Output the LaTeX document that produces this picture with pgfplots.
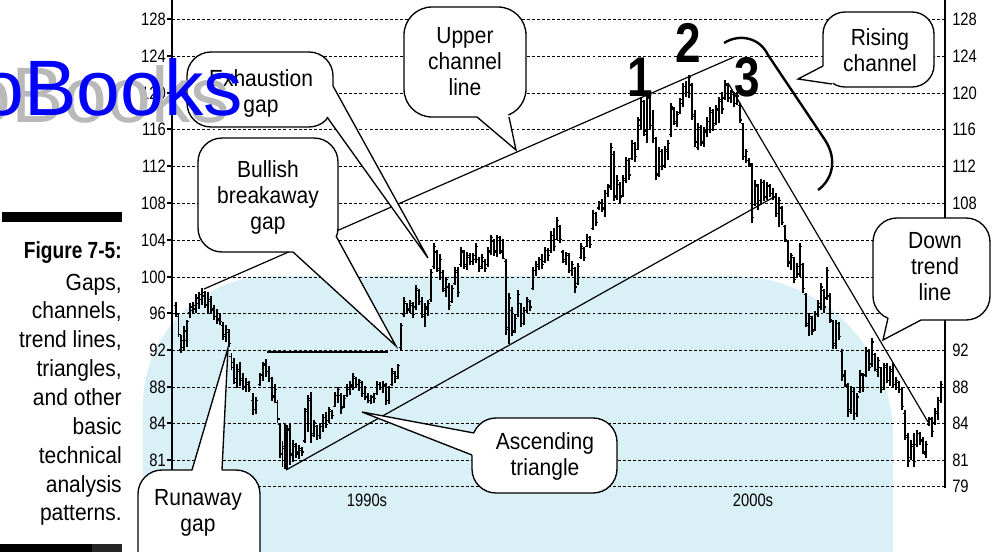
\documentclass[border=0pt]{standalone}
\usepackage{pgfplots}
\pgfplotsset{compat=1.18}
\usepackage{pgfplotstable}
\usepackage{fontspec}
\setmainfont[FakeStretch=0.82]{Liberation Sans}
\newfontfamily\cf[FakeStretch=0.9]{Liberation Sans}
\newfontfamily\wm{Liberation Sans}
\definecolor{bgblue}{RGB}{217,240,246}
\definecolor{wmblue}{RGB}{0,0,255}
\definecolor{wmgrey}{RGB}{185,185,185}
\pgfdeclareplotmark{otick}{\pgfpathmoveto{\pgfqpoint{-1.8pt}{0pt}}\pgfpathlineto{\pgfqpoint{0pt}{0pt}}\pgfusepathqstroke}
\pgfdeclareplotmark{ctick}{\pgfpathmoveto{\pgfqpoint{0pt}{0pt}}\pgfpathlineto{\pgfqpoint{1.8pt}{0pt}}\pgfusepathqstroke}
\pgfplotstableread{
x lo hi o c
176 95.5 97.2 96.8 95.8
178.5 93.3 96.0 95.6 93.6
181 91.6 93.6 92.0 93.0
184 91.8 94.5 92.2 94.0
187 92.3 95.2 93.0 95.0
190 95.4 97.0 96.0 96.6
193 95.8 97.2 96.2 96.8
196 96.0 98.0 96.4 97.6
199 96.4 98.3 97.0 98.0
202 96.8 98.7 97.4 98.2
205 96.5 98.4 97.8 96.9
208 96.0 98.2 96.8 97.4
211 95.8 97.8 97.2 96.2
214 95.2 96.8 96.4 95.6
217 94.8 96.4 95.6 95.2
220 94.6 96.0 95.4 95.0
223 93.0 95.0 94.6 93.6
226 92.8 94.6 93.4 94.2
229 92.3 94.2 93.8 92.6
231.5 89.7 91.6 91.2 90.0
234 88.2 91.0 90.6 88.8
237 87.8 90.4 88.4 89.8
240 88.0 90.6 89.6 88.6
243 87.6 89.4 88.8 87.9
246 87.3 88.9 87.8 88.4
249 87.4 88.6 88.2 87.6
253 84.8 87.2 86.4 85.4
256 85.0 86.8 85.4 86.4
260 88.0 89.4 88.2 89.2
263 88.6 90.6 89.2 90.2
266 89.0 90.9 90.4 89.6
269 88.4 90.2 89.6 88.8
272 86.4 89.0 88.8 86.8
275 86.2 88.2 87.0 87.6
277.5 84.0 86.5 86.2 84.4
280 80.2 84.0 83.8 80.6
282.5 79.2 82.0 80.6 81.4
285 79.0 84.0 81.2 80.0
287 78.9 83.8 80.2 83.2
290 79.4 84.0 83.4 80.4
293 79.7 82.1 80.6 81.6
296 80.2 81.8 81.4 80.6
299 80.0 81.6 80.8 81.2
302 80.4 81.4 81.0 80.8
305 81.8 85.6 82.0 85.2
308 83.0 87.0 85.4 86.4
311 81.8 87.3 86.6 82.6
314 82.4 84.3 82.8 84.0
317 82.1 83.8 83.6 82.6
320 82.2 84.0 82.6 83.6
323 83.0 85.0 83.6 84.6
326 83.4 85.2 84.6 83.8
329 84.0 85.7 84.2 85.4
332 84.4 85.4 85.2 84.8
335 85.7 87.4 85.8 87.0
338 86.2 87.9 87.0 87.6
341 85.0 87.2 87.0 85.6
344 85.6 87.0 85.8 86.6
347 86.8 88.2 87.0 87.8
350 87.0 88.6 87.6 88.2
353 87.6 89.4 88.0 89.0
356 87.9 89.0 88.8 88.2
359 87.5 88.8 88.2 88.6
362 86.8 88.6 88.4 87.2
365 86.5 88.0 87.2 86.8
368 86.1 87.2 86.8 86.4
371 86.0 87.0 86.4 86.8
374 86.2 87.2 86.8 86.6
377 87.0 88.6 87.2 88.2
380 87.6 88.4 88.2 87.8
383 87.2 88.6 87.8 88.2
386 85.9 88.3 88.0 86.4
389 86.0 88.0 86.4 87.8
392 88.0 90.0 88.2 89.6
395 88.3 89.6 89.4 88.8
398 88.8 90.4 89.0 90.2
401 91.9 94.9 92.2 94.6
404 95.5 97.7 95.8 97.2
407 95.8 97.0 97.0 96.2
410 96.0 97.4 96.4 97.0
413 95.4 97.2 96.8 95.8
416 96.3 99.0 96.6 98.6
419 96.8 98.6 98.4 97.2
422 95.4 97.7 97.2 95.8
425 94.4 97.0 95.6 96.6
428 95.6 97.4 96.4 97.0
431 97.2 100.8 97.4 100.4
434 100.8 103.6 101.0 103.2
437 100.4 102.8 102.6 100.8
440 99.5 102.4 100.6 101.8
443 98.2 100.6 100.4 98.6
446 97.7 99.9 98.4 99.6
449 96.3 99.2 98.8 96.8
452 97.0 99.0 97.2 98.6
455 99.0 101.0 99.2 100.6
458 97.7 101.0 100.4 98.2
461 101.0 103.2 101.2 102.8
464 100.8 102.8 102.6 101.2
467 100.6 102.6 101.0 102.2
470 101.2 102.5 102.0 101.6
473 101.2 102.5 101.6 102.2
476 101.4 103.6 101.8 103.2
479 100.4 102.1 101.8 100.8
482 100.8 102.4 101.0 102.0
485 100.4 101.8 101.6 100.8
488 101.0 103.2 101.2 102.8
491 102.3 104.5 102.6 104.2
494 102.2 104.0 103.8 102.6
497 102.1 104.5 102.8 104.2
500 102.4 104.4 104.2 102.8
503 101.8 104.0 102.6 101.9
506 93.6 101.8 101.6 94.2
509 92.6 98.1 94.4 97.6
512 93.4 96.6 96.2 93.8
515 93.8 95.8 94.0 95.4
518 95.5 98.5 95.8 98.0
521 94.4 97.0 97.0 94.8
524 94.6 96.6 94.8 96.2
527 96.0 97.7 96.2 97.4
530 96.2 97.4 97.2 96.6
533 98.5 101.0 98.6 100.6
536 100.0 101.6 100.6 101.2
539 100.6 102.1 101.0 101.8
542 100.8 102.4 101.8 101.2
545 101.4 103.2 101.6 102.8
548 101.6 103.0 102.8 102.2
551 102.5 104.9 102.8 104.4
554 102.7 105.2 104.4 103.2
557 103.9 106.4 104.0 106.0
560 103.6 105.6 105.4 104.0
563 101.4 102.8 102.6 101.8
566 101.2 102.6 101.6 102.4
569 100.3 102.5 102.2 100.6
572 100.0 101.6 100.6 101.2
575 98.1 101.0 100.8 98.8
578 99.0 101.4 99.2 101.0
581 101.8 103.6 102.0 103.2
584 101.6 103.2 103.0 102.0
587 103.1 104.6 103.2 104.2
590 103.0 104.4 104.2 103.4
593 105.0 107.2 105.2 106.8
596 105.4 107.0 106.8 105.8
599 107.2 108.2 107.4 108.0
602 107.0 108.4 108.0 107.4
605 106.4 109.4 107.2 109.0
608 108.6 110.0 109.0 109.6
611 109.4 114.5 109.8 114.0
614 108.2 113.6 113.2 108.8
617 108.3 111.0 108.6 110.4
620 108.0 110.2 110.0 108.6
623 108.6 111.0 108.8 110.6
626 110.1 113.0 110.4 112.6
629 110.4 112.8 112.6 111.0
632 112.6 114.8 112.8 114.4
635 112.4 114.6 114.4 113.0
638 113.7 117.3 113.8 117.0
641 115.9 119.5 116.4 119.0
644 115.2 119.2 119.0 115.8
647 114.5 120.2 115.4 119.6
650 116.0 119.8 119.4 116.4
653 114.5 118.1 116.4 115.0
656 110.4 115.1 115.0 111.0
659 110.8 114.0 111.2 113.6
662 111.5 113.8 113.6 112.0
665 111.8 114.2 112.0 113.8
668 112.6 114.8 113.6 114.4
671 115.1 118.8 115.4 118.4
674 116.4 118.4 118.2 116.8
677 116.2 118.0 116.6 117.6
680 117.6 119.4 117.8 119.2
683 118.4 121.0 118.8 120.6
686 119.5 121.2 120.6 120.0
689 119.4 121.9 120.0 121.6
692 117.0 121.0 120.8 117.6
695 114.0 118.1 117.4 114.6
698 113.7 116.7 114.0 116.2
701 114.2 116.4 116.2 114.6
704 114.0 116.2 114.4 115.8
707 115.1 117.3 115.6 116.8
710 115.6 118.4 116.0 118.0
713 115.8 118.2 117.8 116.4
716 116.4 118.6 116.6 118.2
719 116.7 119.5 118.0 119.2
722 117.6 120.0 119.0 118.2
725 119.2 121.4 119.4 121.0
728 119.0 121.0 120.8 119.4
731 118.8 120.3 119.4 120.0
734 118.4 120.0 119.8 118.8
737 118.6 120.0 118.8 119.6
740 116.7 118.8 118.6 117.0
743 112.6 116.7 116.6 113.0
746 112.3 113.8 113.0 113.6
749 111.9 112.8 112.6 112.2
752 105.8 112.3 112.0 106.4
755 107.6 110.4 107.8 110.0
758 107.2 110.0 109.8 107.8
761 108.0 110.6 108.2 110.2
764 108.2 110.4 110.2 108.6
767 108.3 110.2 108.6 109.8
770 108.6 110.0 109.8 109.0
773 108.3 109.6 109.0 108.6
776 106.4 109.0 108.6 106.8
779 105.3 108.6 106.8 108.2
782 105.5 107.6 107.4 105.8
785 103.7 105.5 105.4 104.0
788 101.0 103.9 103.8 101.6
791 100.6 102.5 101.4 102.2
794 99.2 102.1 102.0 99.6
797 99.8 101.4 99.8 101.0
800 99.9 103.6 100.2 103.2
803 98.1 101.4 101.2 98.6
806 94.4 98.1 98.0 94.8
809 93.4 96.0 94.6 95.6
812 93.6 95.6 95.4 94.0
815 94.0 96.2 94.2 95.8
818 95.5 97.4 95.8 97.0
821 96.3 99.2 96.6 98.8
824 96.0 98.6 98.4 96.6
827 97.4 101.0 97.6 100.6
830 94.9 98.1 97.8 95.2
833 92.0 95.2 95.0 92.6
836 92.0 95.2 92.4 94.8
839 93.0 95.0 94.8 93.4
842 88.6 92.0 91.8 89.0
845 87.9 89.7 89.2 88.2
848 84.6 88.3 88.0 85.2
851 85.0 88.0 85.4 87.4
854 84.3 87.9 87.4 85.0
857 84.6 87.2 85.0 86.8
860 87.2 89.7 87.4 89.4
863 87.4 89.4 89.2 87.8
866 89.0 92.3 89.2 91.8
869 89.6 92.0 91.8 90.0
872 90.1 93.2 90.4 92.8
875 89.6 91.6 91.4 89.8
878 89.0 91.2 89.6 90.8
881 87.2 90.1 90.0 87.6
884 87.6 90.5 87.8 90.2
887 88.3 90.5 90.0 88.6
890 88.0 90.2 88.6 89.8
893 87.9 90.5 89.6 88.2
896 87.6 89.0 88.2 88.6
899 87.2 88.6 88.4 87.6
902 85.4 87.9 87.6 85.8
905 82.1 85.4 85.0 82.6
908 79.2 82.9 82.4 79.8
911 79.9 82.1 80.2 81.6
914 79.2 82.9 81.4 79.8
917 81.4 83.2 81.6 82.8
920 81.6 83.0 82.8 82.0
923 80.6 82.4 82.2 80.8
926 80.1 82.0 80.6 81.6
929 83.6 84.6 83.8 84.4
932 82.4 84.6 84.4 83.0
935 83.8 85.6 84.0 85.2
938 84.3 86.8 85.0 86.4
941 86.2 88.6 86.4 88.2
}\bars
\tikzset{px/.style={shift={(-129pt,367.5pt)}, x=0.75pt, y=-0.75pt}}
\newcommand{\tkf}{\fontsize{13.5pt}{15pt}\selectfont}
\newcommand{\clf}{\cf\fontsize{17.5pt}{19.5pt}\selectfont}
\begin{document}
\begin{tikzpicture}
\begin{scope}[px]
\fill[bgblue] (143,640) [rounded corners=97pt] -- (143,276) [rounded corners=120pt] -- (893,276) [sharp corners] -- (893,640) -- cycle;
\foreach \p in {19,56,93,129,166,203,240,277,313,350,387,423,460,486} {\draw[black, line width=0.7pt, dash pattern=on 2.2pt off 1.6pt] (172,\p) -- (945,\p);}
\end{scope}
\begin{axis}[
  scale only axis, width=579.75pt, height=367.5pt,
  xmin=172, xmax=945, ymin=76.665, ymax=130.0708,
  axis line style={draw=none},
  xtick=\empty, ytick=\empty,
  clip=false]
\addplot[draw=none, mark=none, forget plot,
  error bars/.cd, y dir=plus, y explicit, error mark=none,
  error bar style={draw=black, solid, line width=1pt}]
  table[x=x, y=lo, y error expr=\thisrow{hi}-\thisrow{lo}] {\bars};
\addplot[only marks, mark=otick, black, mark options={solid, line width=0.9pt}] table[x=x, y=o] {\bars};
\addplot[only marks, mark=ctick, black, mark options={solid, line width=0.9pt}] table[x=x, y=c] {\bars};
\end{axis}
\begin{scope}[px]
\draw[line width=0.9pt] (172,0) -- (172,470);
\draw[line width=0.9pt] (945,0) -- (945,488);
\foreach \p in {19,56,93,129,166,203,240,277,313,350,387,423,460} {\draw[line width=0.8pt] (167,\p) -- (172,\p);}
\foreach \p/\l in {19/128,56/124,93/120,129/116,166/112,203/108,240/104,277/100,313/96,350/92,387/88,423/84,460/81} {
  \node[anchor=east, inner sep=0pt, font=\tkf] at (166,\p) {\l};
  \node[anchor=west, inner sep=0pt, font=\tkf] at (952,\p) {\l};
}
\node[anchor=west, inner sep=0pt, font=\tkf] at (952,486) {79};
\node[font=\tkf] at (367,500) {1990s};
\node[font=\tkf] at (753,500) {2000s};
\draw[line width=0.9pt] (204,289) -- (734,57);
\draw[line width=0.9pt] (286,470) -- (774,197);
\draw[line width=0.9pt] (728,83) -- (928,422);
\draw[line width=2.2pt] (267,352) -- (388,352);
\draw[line width=1.8pt] (724,43) .. controls (740,33) and (760,38) .. (768,55) -- (825,140) .. controls (838,160) and (832,180) .. (818,190);
\node[font=\bfseries\fontsize{42pt}{42pt}\selectfont, inner sep=0pt] at (640,77) {1};
\node[font=\bfseries\fontsize{42pt}{42pt}\selectfont, inner sep=0pt] at (688,43) {2};
\node[font=\bfseries\fontsize{42pt}{42pt}\selectfont, inner sep=0pt] at (747,77) {3};
\tikzset{cbox/.style={fill=white, draw=black, line width=1pt}}
\filldraw[cbox, rounded corners=18pt] (187,52) rectangle (333,127);
\fill[white] (333,86) -- (428,258) -- (327,117) -- (322,112) -- (328,88) -- cycle;
\draw[line width=1pt] (333,86) -- (428,258) -- (327,117);
\node[align=center, font=\clf] at (261,93) {Exhaustion\\gap};
\filldraw[cbox, rounded corners=18pt] (198,138) rectangle (338,252);
\fill[white] (293,252) -- (396,346) -- (336,236) -- (331,236) -- (296,247) -- cycle;
\draw[line width=1pt] (293,252) -- (396,346) -- (336,236);
\node[align=center, font=\clf] at (268,197) {Bullish\\breakaway\\gap};
\filldraw[cbox, rounded corners=21pt] (404,7) rectangle (526,117);
\fill[white] (477,117) -- (516,150) -- (509,117) -- (507,112) -- (479,112) -- cycle;
\draw[line width=1pt] (477,117) -- (516,150) -- (509,117);
\node[align=center, font=\clf] at (465,62) {Upper\\channel\\line};
\filldraw[cbox, rounded corners=16.5pt] (823,12) rectangle (934,87);
\fill[white] (823,66) -- (798,79) -- (832,84) -- (835,80) -- (828,66) -- cycle;
\draw[line width=1pt] (823,66) -- (798,79) -- (832,84);
\node[align=center, font=\clf] at (880,50) {Rising\\channel};
\filldraw[cbox, rounded corners=18pt] (873,218) rectangle (990,320);
\fill[white] (888,318) -- (883,340) -- (921,320) -- (919,315) -- (890,314) -- cycle;
\draw[line width=1pt] (888,318) -- (883,340) -- (921,320);
\node[align=center, font=\clf] at (935,267) {Down\\trend\\line};
\filldraw[cbox, rounded corners=18pt] (472,418) rectangle (617,493);
\fill[white] (474,433) -- (362,412) -- (472,455) -- (478,455) -- (479,434) -- cycle;
\draw[line width=1pt] (474,433) -- (362,412) -- (472,455);
\node[align=center, font=\clf] at (545,456) {Ascending\\triangle};
\filldraw[cbox, rounded corners=18pt] (138,470) rectangle (260,580);
\fill[white] (192,470) -- (228,348) -- (222,470) -- (220,475) -- (194,475) -- cycle;
\draw[line width=1pt] (192,470) -- (228,348) -- (222,470);
\node[align=center, font=\clf] at (198,513) {Runaway\\gap};
\fill[black] (2,212) rectangle (122,222);
\fill[black] (0,544) rectangle (92,556);
\fill[black!85] (92,544) rectangle (122,556);
\node[anchor=base east, inner sep=0pt, font=\bfseries\fontsize{17.5pt}{20pt}\selectfont] at (122,258) {Figure 7-5:};
\node[anchor=base east, inner sep=0pt, font=\clf] at (122,290) {Gaps,};
\node[anchor=base east, inner sep=0pt, font=\clf] at (122,318) {channels,};
\node[anchor=base east, inner sep=0pt, font=\clf] at (122,347) {trend lines,};
\node[anchor=base east, inner sep=0pt, font=\clf] at (122,376) {triangles,};
\node[anchor=base east, inner sep=0pt, font=\clf] at (122,405) {and other};
\node[anchor=base east, inner sep=0pt, font=\clf] at (122,434) {basic};
\node[anchor=base east, inner sep=0pt, font=\clf] at (122,463) {technical};
\node[anchor=base east, inner sep=0pt, font=\clf] at (122,492) {analysis};
\node[anchor=base east, inner sep=0pt, font=\clf] at (122,520) {patterns.};
\node[anchor=base east, inner sep=0pt, text=wmgrey, font=\wm\fontsize{59pt}{59pt}\selectfont] at (230,122) {oBooks};
\node[anchor=base east, inner sep=0pt, text=wmblue, font=\wm\fontsize{59pt}{59pt}\selectfont] at (243,115) {oBooks};
\end{scope}
\pgfresetboundingbox
\path[px, use as bounding box] (0,0) rectangle (992,551);
\end{tikzpicture}
\end{document}
